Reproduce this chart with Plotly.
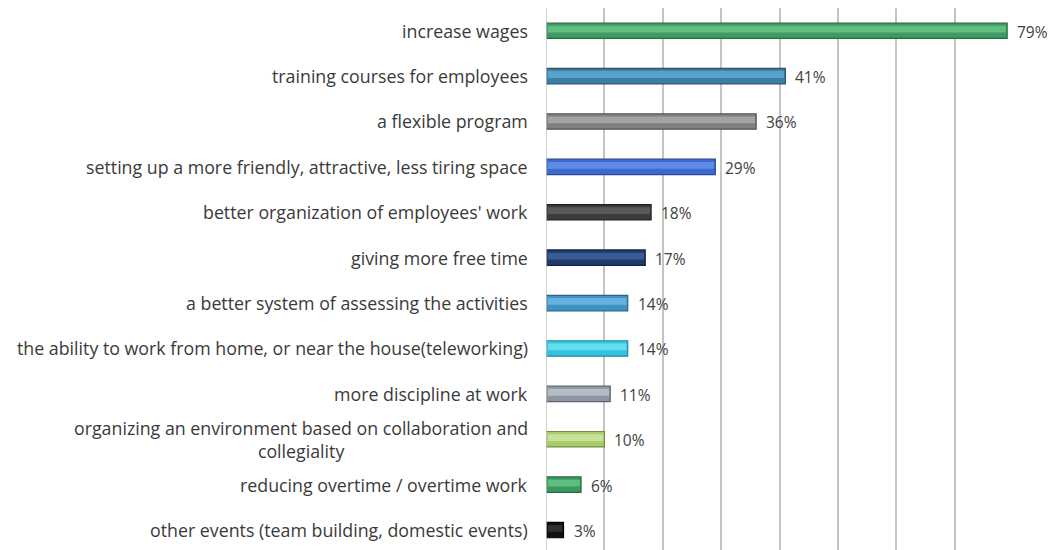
import plotly.graph_objects as go

categories = [
    "increase wages",
    "training courses for employees",
    "a flexible program",
    "setting up a more friendly, attractive, less tiring space",
    "better organization of employees' work",
    "giving more free time",
    "a better system of assessing the activities",
    "the ability to work from home, or near the house(teleworking)",
    "more discipline at work",
    "organizing an environment based on collaboration and<br>collegiality",
    "reducing overtime / overtime work",
    "other events (team building, domestic events)",
]
values = [79, 41, 36, 29, 18, 17, 14, 14, 11, 10, 6, 3]
value_labels = ["79%", "41%", "36%", "29%", "18%", "17%", "14%", "14%", "11%", "10%", "6%", "3%"]

base_colors = ["#3f9a62", "#3a7ea6", "#7f7f7f", "#3d6ad0", "#3c3c3c", "#1f3a6e",
               "#3f93c4", "#33c3df", "#8d97a3", "#a9cc6e", "#3a9a5e", "#101010"]
light_colors = ["#62bd83", "#5aa2c9", "#a3a3a3", "#5f8ce6", "#5a5a5a", "#3a5a93",
                "#65b4e0", "#66dcf0", "#b4bcc6", "#c6e396", "#5fbd80", "#2e2e2e"]
edge_colors = ["#2a6a42", "#25536f", "#555555", "#28478f", "#1f1f1f", "#122446",
               "#2a6387", "#2389a0", "#5d6570", "#748f45", "#266a40", "#000000"]

idx = list(range(len(categories)))
FONT = "Open Sans, sans-serif"

fig = go.Figure()
fig.add_trace(go.Bar(
    y=idx, x=values, orientation="h", width=0.34,
    marker=dict(color=base_colors, line=dict(color=edge_colors, width=1.2)),
    hoverinfo="skip", showlegend=False,
))
fig.add_trace(go.Bar(
    y=idx, x=[v - 0.5 for v in values], base=0.3, orientation="h", width=0.15,
    offset=-0.11,
    marker=dict(color=light_colors, line=dict(width=0)),
    hoverinfo="skip", showlegend=False,
))

annotations = []
for i, (c, v, t) in enumerate(zip(categories, values, value_labels)):
    annotations.append(dict(
        x=v, y=i, xref="x", yref="y", text=t, showarrow=False,
        xanchor="left", xshift=8, yshift=-1,
        font=dict(family=FONT, size=15.5, color="#404040"),
    ))
    annotations.append(dict(
        x=0, y=i, xref="x", yref="y", text=c, showarrow=False,
        xanchor="right", xshift=-16, align="center",
        font=dict(family=FONT, size=17.8, color="#3a3a3a"),
    ))

fig.update_layout(
    width=1053, height=542,
    margin=dict(l=538, r=48, t=0, b=0),
    plot_bgcolor="white", paper_bgcolor="white",
    barmode="overlay",
    annotations=annotations,
    xaxis=dict(range=[0, 80], dtick=10, showgrid=True, gridcolor="#c4c4c4", gridwidth=1.5,
               showticklabels=False, zeroline=False, showline=False, ticks=""),
    yaxis=dict(range=[11.44, -0.5], showticklabels=False, showgrid=False,
               zeroline=False, showline=False, ticks=""),
)
fig.add_vline(x=0, line=dict(color="#c4c4c4", width=1.5))

fig.write_html("out.html")
